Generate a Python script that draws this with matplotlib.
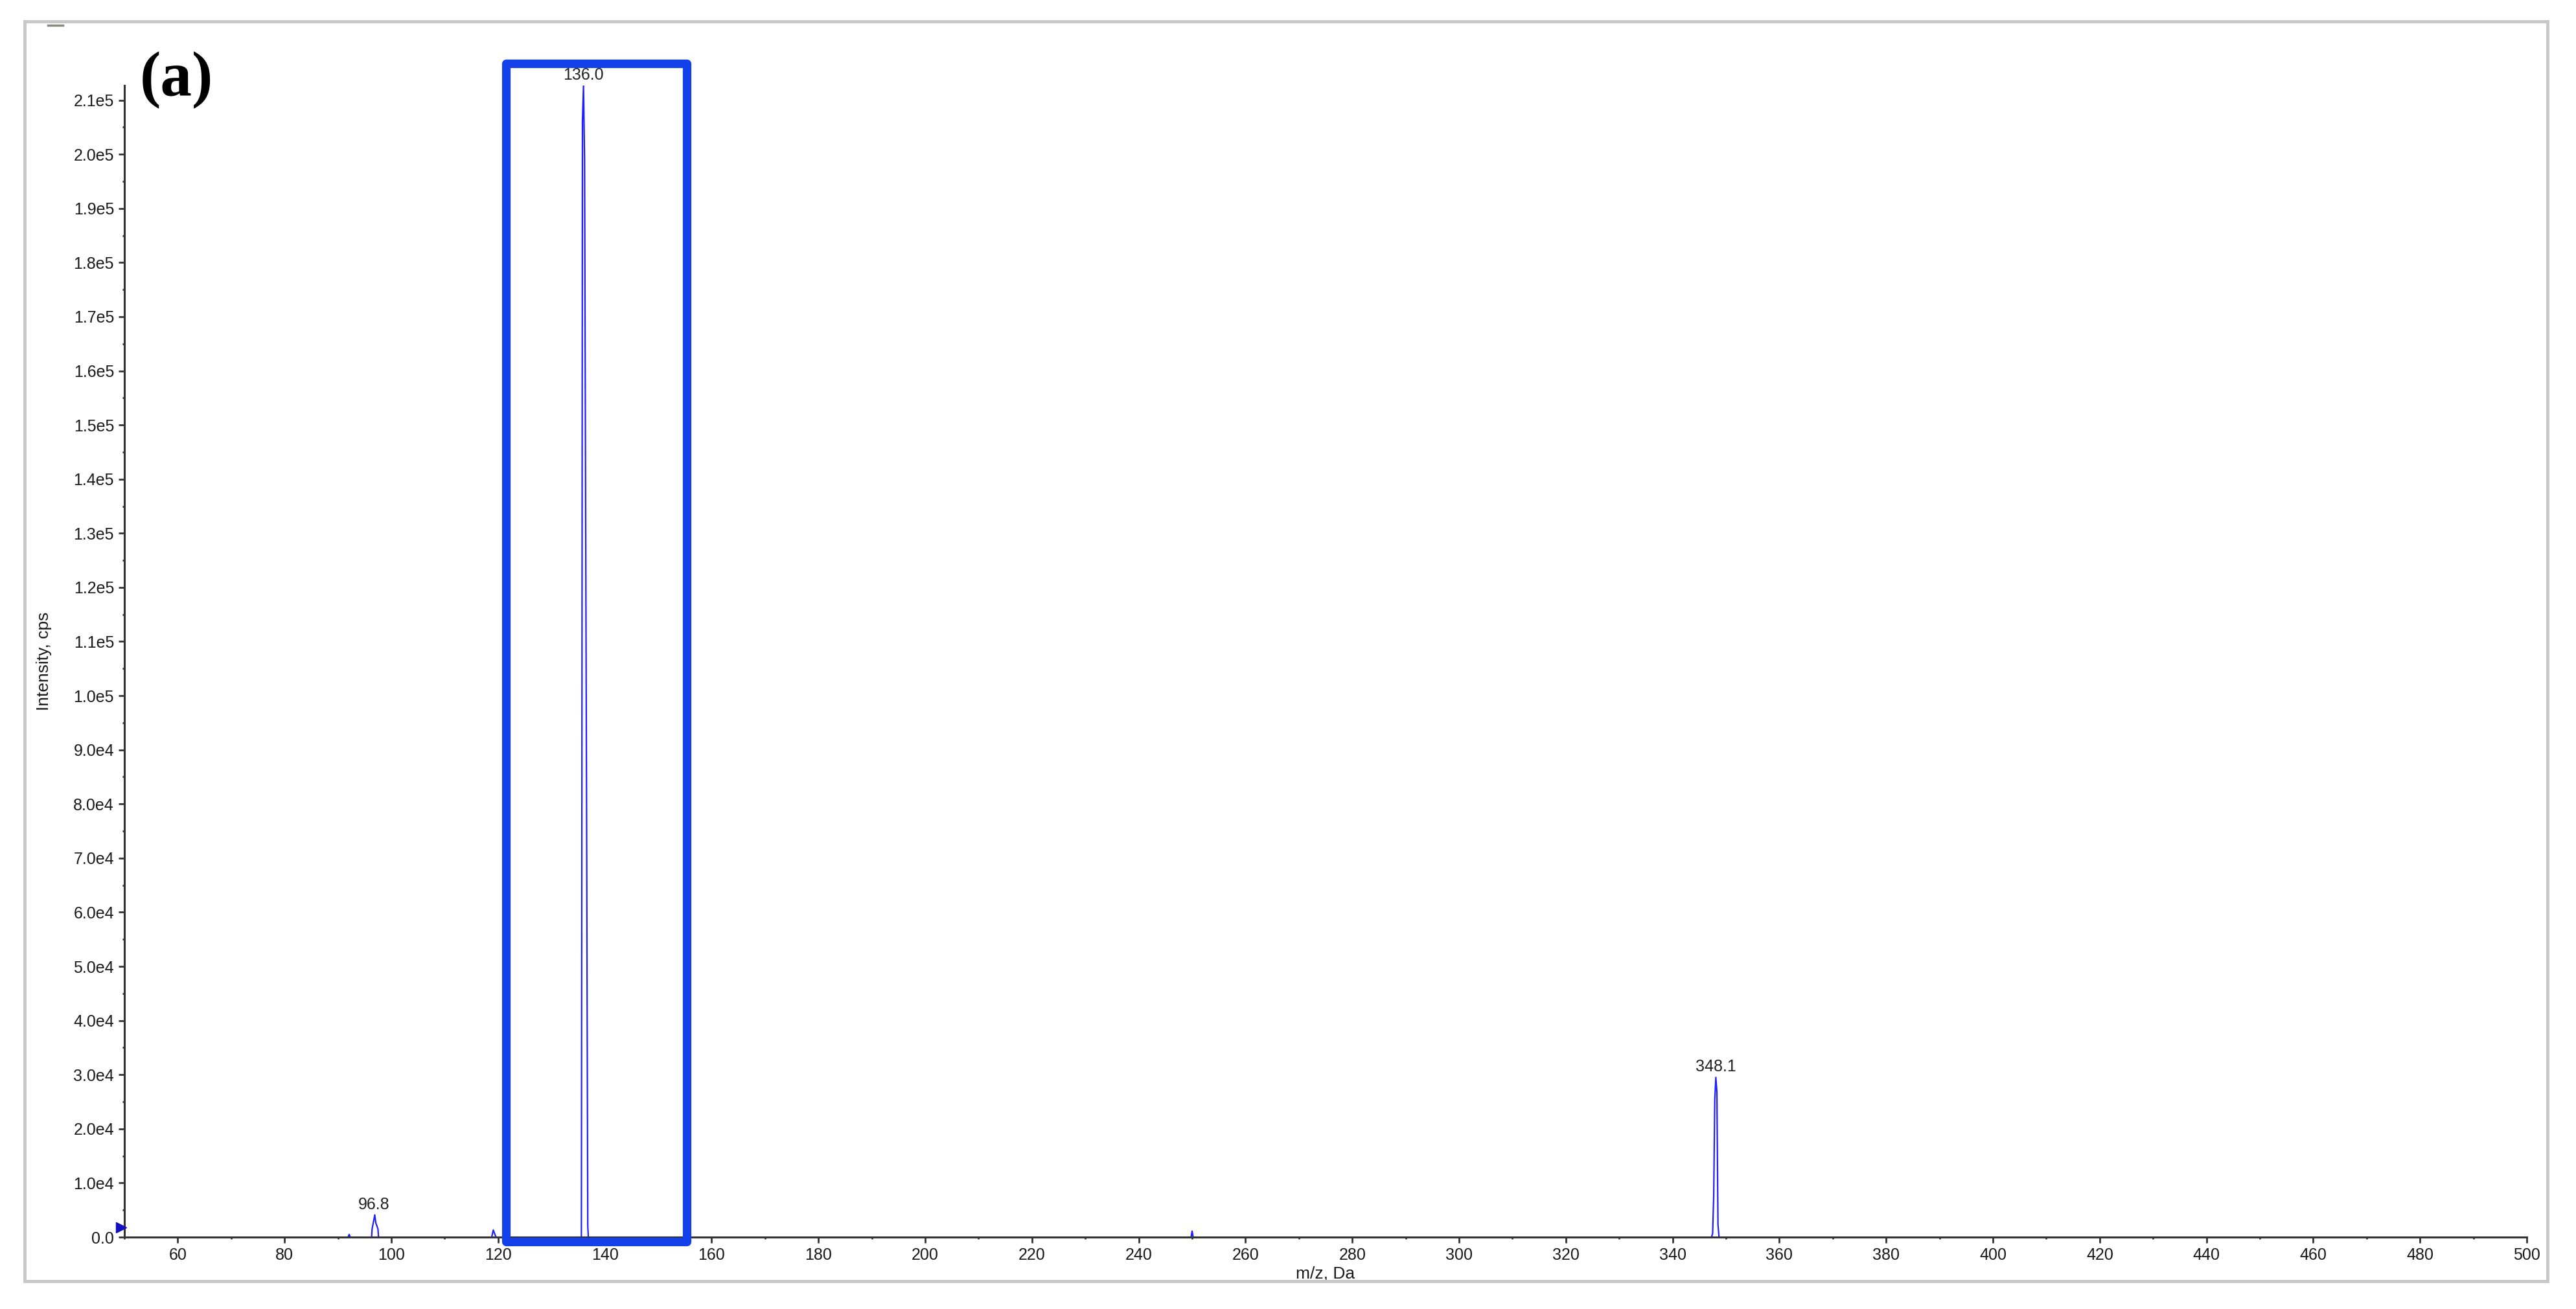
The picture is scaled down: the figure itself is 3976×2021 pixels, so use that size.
import matplotlib
matplotlib.use("Agg")
import matplotlib.pyplot as plt
from matplotlib.patches import Rectangle
from matplotlib.ticker import MultipleLocator, FixedLocator

plt.rcParams["font.family"] = ["Liberation Sans", "DejaVu Sans"]

# spectrum peaks (m/z, intensity in cps)
blip92_mz = [91.9, 92.1, 92.3]
blip92_int = [0, 500, 0]
peak97_mz = [96.3, 96.4, 96.9, 97.1, 97.5, 97.6]
peak97_int = [0, 1500, 4100, 2600, 1500, 0]
blip119_mz = [118.8, 119.1, 119.6]
blip119_int = [0, 1300, 0]
peak136_mz = [135.6, 135.7, 135.8, 136.0, 136.2, 136.6, 136.8, 136.9]
peak136_int = [0, 85000, 206000, 212700, 199000, 70000, 2000, 0]
blip250_mz = [249.8, 250.0, 250.2]
blip250_int = [0, 1100, 0]
peak348_mz = [347.3, 347.5, 347.7, 347.9, 348.1, 348.3, 348.5, 348.7]
peak348_int = [0, 700, 7500, 25400, 29500, 26800, 2300, 0]

# labelled peaks
label_mz = [96.8, 136.0, 348.1]
label_int = [4100, 212700, 29500]
label_txt = ["96.8", "136.0", "348.1"]

# highlight box (m/z range, intensity range)
box_mz = [121.5, 155.3]
box_int = [-800, 216800]

threshold = 1800

xticks = list(range(60, 501, 20))
xtick_labels = [str(v) for v in xticks]
yticks = [i * 1e4 for i in range(22)]
ytick_labels = ["0.0"] + [f"{i}.0e4" for i in range(1, 10)] + \
    [f"{v/10:.1f}e5" for v in range(10, 22)]

fig = plt.figure(figsize=(39.76, 20.21), dpi=100)
ax = fig.add_axes([0.04829, 0.05492, 0.9326, 0.87977])

# outer grey frame like the software window
fig.patches.append(Rectangle((0.0096, 0.0213), 0.9793, 0.9624, transform=fig.transFigure,
                             fill=False, edgecolor="#c8c8c8", lw=3.5))
fig.lines.append(plt.Line2D([0.0185, 0.0245], [0.9805, 0.9805], transform=fig.transFigure,
                            color="#8a8a80", lw=2.5))

blue = "#1f1fff"
for mz, inten in [(blip92_mz, blip92_int), (peak97_mz, peak97_int),
                  (blip119_mz, blip119_int), (peak136_mz, peak136_int),
                  (blip250_mz, blip250_int), (peak348_mz, peak348_int)]:
    ax.plot(mz, inten, color=blue, lw=1.6, zorder=2)

for mz, inten, txt in zip(label_mz, label_int, label_txt):
    ax.annotate(txt, xy=(mz, inten), xytext=(0, 3), textcoords="offset points",
                ha="center", va="bottom", fontsize=18, color="#222222",
                annotation_clip=False)

# threshold marker on the y axis
ax.plot([49.4], [threshold], marker=">", markersize=11, color="#1010c0",
        clip_on=False, zorder=4)

ax.add_patch(Rectangle((box_mz[0], box_int[0]), box_mz[1] - box_mz[0],
                       box_int[1] - box_int[0], fill=False, edgecolor="#1440eb",
                       lw=9.5, joinstyle="round", clip_on=False, zorder=5))

ax.set_xlim(50, 500)
ax.set_ylim(0, 212700)
ax.xaxis.set_major_locator(FixedLocator(xticks))
ax.set_xticklabels(xtick_labels)
ax.xaxis.set_minor_locator(MultipleLocator(10))
ax.yaxis.set_major_locator(FixedLocator(yticks))
ax.set_yticklabels(ytick_labels)
ax.yaxis.set_minor_locator(MultipleLocator(5000))

for s in ["top", "right"]:
    ax.spines[s].set_visible(False)
for s in ["left", "bottom"]:
    ax.spines[s].set_color("#333333")
    ax.spines[s].set_linewidth(2.2)
    ax.spines[s].set_zorder(3)

ax.tick_params(which="major", direction="out", length=6.5, width=2, color="#333333",
               labelsize=18, labelcolor="#1a1a1a", pad=5)
ax.tick_params(which="minor", direction="out", length=2.5, width=2, color="#333333")

ax.set_xlabel("m/z, Da", fontsize=19, labelpad=3, color="#1a1a1a")
ax.set_ylabel("Intensity, cps", fontsize=19, labelpad=24, color="#1a1a1a")

fig.text(0.0543, 0.9610, "(a)", fontsize=70, fontweight="bold",
         family="Liberation Serif", ha="left", va="top")

fig.savefig("out.png", dpi=100)
